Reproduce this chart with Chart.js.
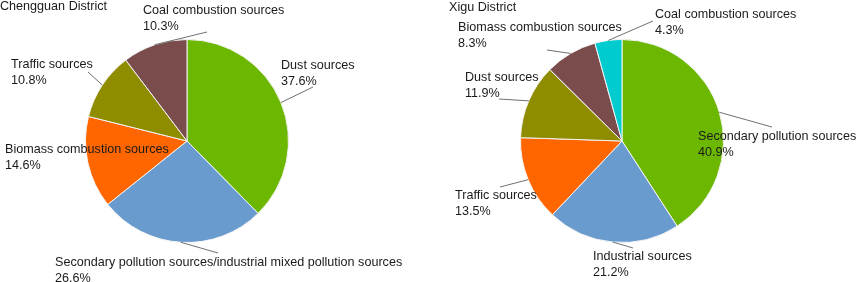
<!DOCTYPE html>
<html>
<head>
<meta charset="utf-8">
<script src="https://cdn.jsdelivr.net/npm/chart.js@4"></script>
<style>
  body { margin: 0; background: #fff; }
  .wrap { display: flex; width: 856px; height: 282px; }
  canvas { display: block; }
</style>
</head>
<body>
<div class="wrap">
  <canvas id="chengguanChart" width="428" height="282"></canvas>
  <canvas id="xiguChart" width="428" height="282"></canvas>
</div>
<script>
// Chengguan District
const cgLabels = ["Dust sources", "Secondary pollution sources/industrial mixed pollution sources",
  "Biomass combustion sources", "Traffic sources", "Coal combustion sources"];
const cgValues = [37.6, 26.6, 14.6, 10.8, 10.3];

// Xigu District
const xgLabels = ["Secondary pollution sources", "Industrial sources", "Traffic sources",
  "Dust sources", "Biomass combustion sources", "Coal combustion sources"];
const xgValues = [40.9, 21.2, 13.5, 11.9, 8.3, 4.3];

const cgColors = ["#6cb800", "#6a9bcf", "#ff6600", "#8f8c00", "#7b4c4c"];
const xgColors = ["#6cb800", "#6a9bcf", "#ff6600", "#8f8c00", "#7b4c4c", "#00ccd0"];

// label placement: text left/top-line middle, leader end point (null = no leader)
const cgLayout = [
  { tx: 281, ty: 66, lx: 313, ly: 87 },
  { tx: 55, ty: 263, lx: 218, ly: 253 },
  { tx: 5, ty: 150, lx: null, ly: null },
  { tx: 11, ty: 65, lx: 88, ly: 72 },
  { tx: 143, ty: 11, lx: 207, ly: 32 }
];
const xgLayout = [
  { tx: 270, ty: 137, lx: 344, ly: 127 },
  { tx: 165, ty: 257, lx: 205, ly: 248 },
  { tx: 27, ty: 196, lx: 72, ly: 187 },
  { tx: 37, ty: 78, lx: 71, ly: 99 },
  { tx: 30, ty: 28, lx: 119, ly: 50 },
  { tx: 227, ty: 15, lx: 225, ly: 21 }
];

const FONT = "12.6px 'Liberation Sans', Arial, sans-serif";

const labelPlugin = {
  id: "pieLabels",
  afterDatasetsDraw(chart, args, opts) {
    const ctx = chart.ctx;
    const meta = chart.getDatasetMeta(0);
    const data = chart.data.datasets[0].data;
    ctx.save();
    ctx.font = FONT;
    ctx.textBaseline = "middle";
    ctx.textAlign = "left";
    meta.data.forEach((arc, i) => {
      const p = arc.getProps(["x", "y", "startAngle", "endAngle", "outerRadius"], true);
      const mid = (p.startAngle + p.endAngle) / 2;
      const sx = p.x + Math.cos(mid) * p.outerRadius;
      const sy = p.y + Math.sin(mid) * p.outerRadius;
      const l = opts.layout[i];
      if (l.lx !== null) {
        ctx.strokeStyle = "#707070";
        ctx.lineWidth = 1;
        ctx.beginPath();
        ctx.moveTo(sx, sy);
        ctx.lineTo(l.lx, l.ly);
        ctx.stroke();
      }
      ctx.fillStyle = "#1a1a1a";
      ctx.fillText(chart.data.labels[i], l.tx, l.ty);
      ctx.fillText(data[i].toFixed(1) + "%", l.tx, l.ty + 15.5);
    });
    ctx.fillText(opts.title, opts.titleX, opts.titleY);
    ctx.restore();
  }
};

function makePie(id, labels, values, colors, layout, padding, title, titleX, titleY) {
  new Chart(document.getElementById(id), {
    type: "pie",
    data: {
      labels: labels,
      datasets: [{
        data: values,
        backgroundColor: colors,
        borderColor: "#f4f4f4",
        borderWidth: 1
      }]
    },
    options: {
      responsive: false,
      animation: false,
      layout: { padding: padding },
      plugins: {
        legend: { display: false },
        tooltip: { enabled: false },
        pieLabels: { layout: layout, title: title, titleX: titleX, titleY: titleY }
      }
    },
    plugins: [labelPlugin]
  });
}

makePie("chengguanChart", cgLabels, cgValues, cgColors, cgLayout,
  { left: 85, right: 139, top: 39, bottom: 39 }, "Chengguan District", 0, 7);
makePie("xiguChart", xgLabels, xgValues, xgColors, xgLayout,
  { left: 92, right: 132, top: 39, bottom: 39 }, "Xigu District", 21, 8);
</script>
</body>
</html>
